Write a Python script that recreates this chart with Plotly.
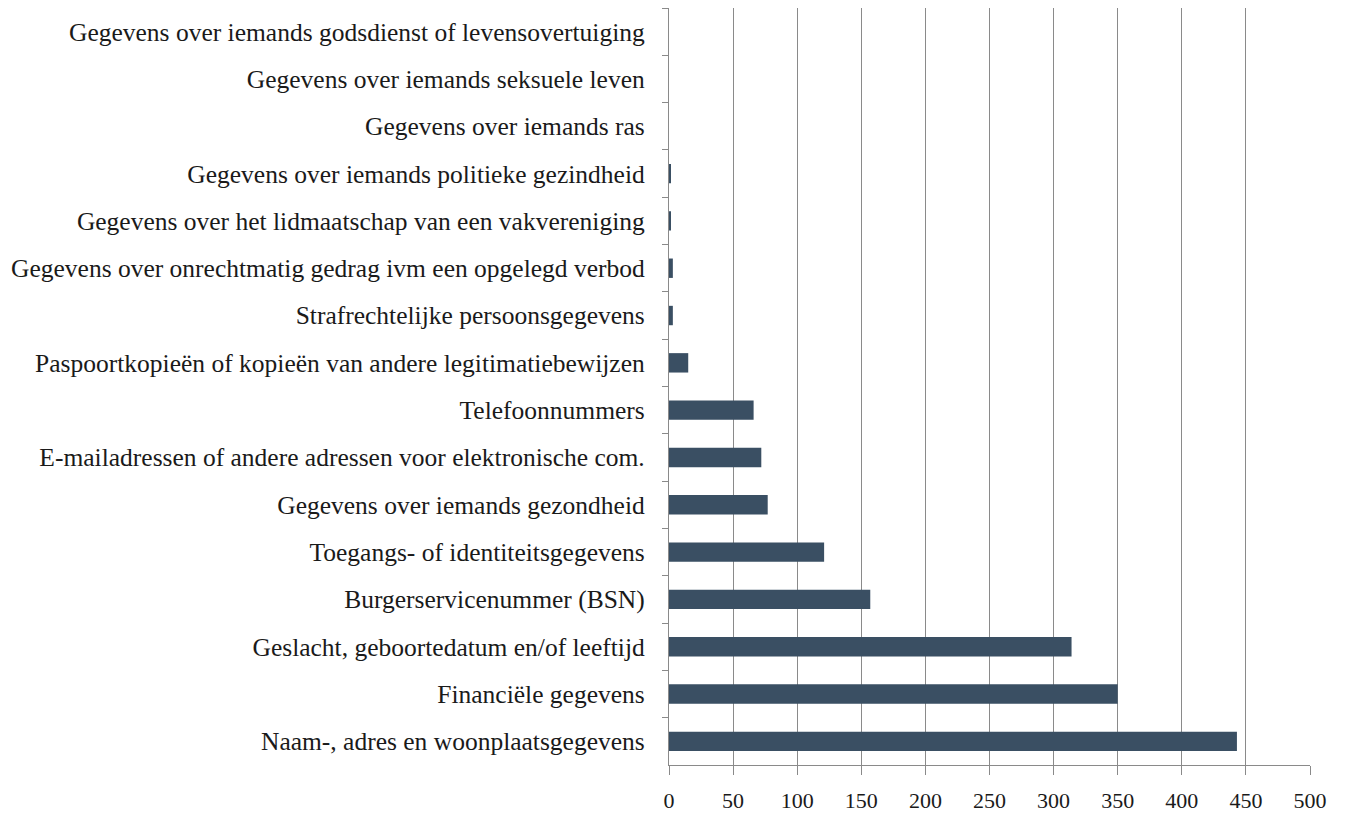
import plotly.graph_objects as go

categories = [
    "Gegevens over iemands godsdienst of levensovertuiging",
    "Gegevens over iemands seksuele leven",
    "Gegevens over iemands ras",
    "Gegevens over iemands politieke gezindheid",
    "Gegevens over het lidmaatschap van een vakvereniging",
    "Gegevens over onrechtmatig gedrag ivm een opgelegd verbod",
    "Strafrechtelijke persoonsgegevens",
    "Paspoortkopieën of kopieën van andere legitimatiebewijzen",
    "Telefoonnummers",
    "E-mailadressen of andere adressen voor elektronische com.",
    "Gegevens over iemands gezondheid",
    "Toegangs- of identiteitsgegevens",
    "Burgerservicenummer (BSN)",
    "Geslacht, geboortedatum en/of leeftijd",
    "Financiële gegevens",
    "Naam-, adres en woonplaatsgegevens",
]
values = [0, 0, 0, 1, 1, 3, 3, 15, 66, 72, 77, 121, 157, 314, 350, 443]
x_ticks = [0, 50, 100, 150, 200, 250, 300, 350, 400, 450, 500]

fig = go.Figure(
    go.Bar(
        x=values,
        y=categories,
        orientation="h",
        marker=dict(color="#3a4f63", line=dict(width=0)),
        width=0.41,
    )
)

font_family = "Liberation Serif, DejaVu Serif, serif"

fig.update_layout(
    width=1340,
    height=806,
    margin=dict(l=661, r=38, t=0, b=49, autoexpand=False),
    plot_bgcolor="white",
    paper_bgcolor="white",
    showlegend=False,
    font=dict(family=font_family, color="#1a1a1a"),
)

fig.update_xaxes(
    range=[0, 500],
    tickvals=x_ticks,
    ticktext=[str(v) for v in x_ticks],
    showgrid=True,
    gridcolor="#8a8a8a",
    gridwidth=1.3,
    zeroline=False,
    showline=True,
    linecolor="#8a8a8a",
    linewidth=1.3,
    ticks="outside",
    ticklen=9,
    tickwidth=1.3,
    tickcolor="#8a8a8a",
    ticklabelstandoff=6,
    tickfont=dict(size=22, family=font_family, color="#1a1a1a"),
)

fig.update_yaxes(
    categoryorder="array",
    categoryarray=categories,
    autorange="reversed",
    showgrid=False,
    showline=True,
    linecolor="#8a8a8a",
    linewidth=1.3,
    ticks="outside",
    tickson="boundaries",
    ticklen=6,
    tickwidth=1.3,
    tickcolor="#8a8a8a",
    ticklabelstandoff=18,
    tickfont=dict(size=25.5, family=font_family, color="#1a1a1a"),
)

fig.write_html("out.html")
